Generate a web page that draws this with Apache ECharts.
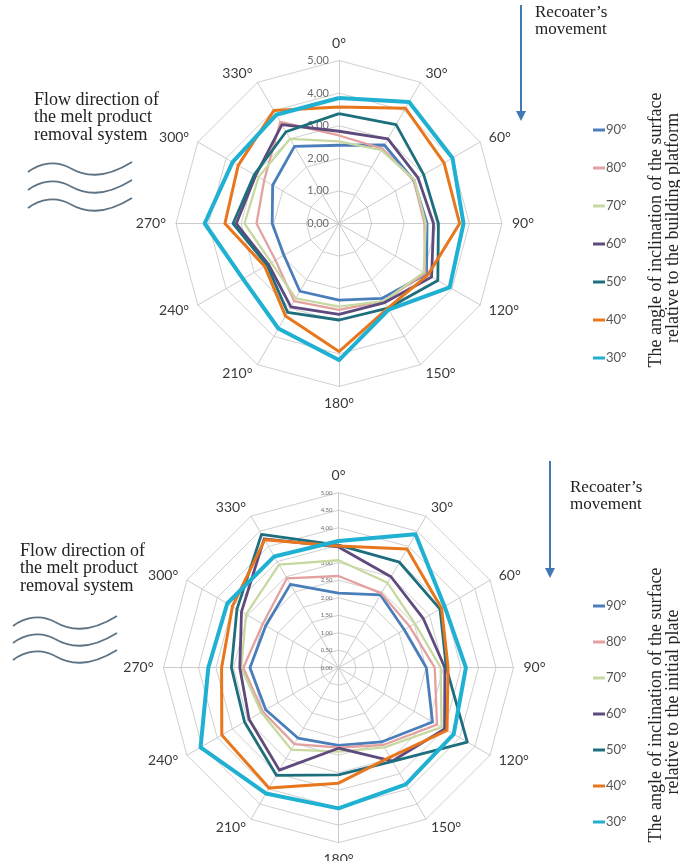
<!DOCTYPE html>
<html>
<head>
<meta charset="utf-8">
<script src="https://cdn.jsdelivr.net/npm/echarts@6/dist/echarts.min.js"></script>
<style>html,body{margin:0;padding:0;background:#fff;}#c{width:680px;height:861px;}</style>
</head>
<body>
<div id="c"></div>
<script>
// Directions (clockwise from top)
const directions = ['0°','30°','60°','90°','120°','150°','180°','210°','240°','270°','300°','330°'];
// Legend / series names (angle of inclination)
const seriesNames = ['90°','80°','70°','60°','50°','40°','30°'];
const seriesColors = ['#4a7ebb','#e3a2a0','#c7d9a0','#5e4a7c','#1e6f7e','#e8761c','#1fb0d2'];
const seriesWidths = [2.8, 2.3, 2.3, 2.8, 2.8, 3, 4];

// Top chart: relative to the building platform (values at 0°,30°,...,330°)
const top90 = [2.40, 2.78, 2.65, 2.70, 3.10, 2.65, 2.35, 2.40, 1.95, 2.05, 2.35, 2.73];
const top80 = [2.70, 2.65, 2.65, 2.62, 3.05, 2.75, 2.65, 2.75, 2.25, 2.53, 2.65, 3.60];
const top70 = [2.52, 2.60, 2.68, 2.66, 3.00, 2.75, 2.55, 2.65, 2.40, 2.90, 2.85, 3.00];
const top60 = [2.83, 3.00, 2.80, 2.90, 3.28, 2.80, 2.79, 2.95, 2.50, 3.15, 2.95, 3.50];
const top50 = [3.37, 3.50, 3.00, 3.05, 3.50, 3.00, 2.96, 3.15, 2.55, 3.25, 3.00, 3.25];
const top40 = [3.57, 4.08, 3.72, 3.70, 3.15, 3.00, 3.93, 3.28, 2.63, 3.50, 3.57, 4.00];
const top30 = [3.85, 4.30, 4.02, 3.82, 3.92, 3.05, 4.19, 3.72, 3.40, 4.12, 3.77, 3.85];

// Bottom chart: relative to the initial plate
const bot90 = [2.13, 2.40, 2.17, 2.51, 3.10, 2.45, 2.22, 2.32, 2.40, 2.53, 2.40, 2.75];
const bot80 = [2.62, 2.45, 2.35, 2.75, 3.25, 2.55, 2.28, 2.52, 2.50, 2.72, 2.50, 2.95];
const bot70 = [3.07, 2.80, 2.52, 2.92, 3.40, 2.63, 2.40, 2.70, 2.55, 2.78, 3.05, 3.40];
const bot60 = [3.45, 3.00, 2.80, 3.04, 3.50, 3.08, 2.30, 3.38, 2.95, 2.82, 3.20, 4.25];
const bot50 = [3.50, 3.48, 3.35, 3.08, 4.25, 3.09, 3.06, 3.55, 3.10, 3.06, 3.35, 4.40];
const bot40 = [3.48, 3.92, 3.40, 3.13, 3.58, 2.95, 3.30, 3.97, 3.85, 3.34, 3.50, 4.22];
const bot30 = [3.62, 4.40, 3.50, 3.64, 3.80, 3.85, 4.02, 4.15, 4.55, 3.72, 3.67, 3.67];

const topData = [top90, top80, top70, top60, top50, top40, top30];
const botData = [bot90, bot80, bot70, bot60, bot50, bot40, bot30];

// ECharts radar lays indicators counter-clockwise; reorder so directions run clockwise
const order = directions.map((d, k) => (12 - k) % 12);
const reorder = arr => order.map(i => arr[i]);
const fmt = v => v.toFixed(2).replace('.', ',');

function indicators(maxV, labelSize, margin) {
  return order.map((i, k) => {
    const ind = { name: directions[i], min: 0, max: maxV };
    if (k === 0) {
      ind.axisLabel = { show: true, formatter: fmt, fontSize: labelSize, color: '#6a6a6a',
                        fontFamily: 'Lato, sans-serif', margin: margin };
    }
    return ind;
  });
}

function radarCfg(center, radius, split, labelSize, margin) {
  return {
    center: center, radius: radius, startAngle: 90, splitNumber: split, shape: 'polygon',
    indicator: indicators(5, labelSize, margin),
    axisName: { color: '#3a3a3a', fontSize: 14, fontFamily: 'Lato, sans-serif' },
    nameGap: 10,
    splitLine: { lineStyle: { color: '#d0d0d0', width: 1 } },
    splitArea: { show: false },
    axisLine: { lineStyle: { color: '#cbcbcb', width: 1 } },
    axisTick: { show: false },
    axisLabel: { show: false }
  };
}

function seriesFor(dataSets, radarIndex) {
  return {
    type: 'radar', radarIndex: radarIndex, symbol: 'none', silent: true,
    data: dataSets.map((arr, s) => ({
      name: seriesNames[s], value: reorder(arr),
      lineStyle: { color: seriesColors[s], width: seriesWidths[s] },
      itemStyle: { color: seriesColors[s] }
    }))
  };
}

function legendCfg(top, gap) {
  return {
    orient: 'vertical', left: 588, top: top, itemGap: gap, icon: 'rect', itemWidth: 12, itemHeight: 3,
    data: seriesNames,
    textStyle: { color: '#555', fontSize: 13, fontFamily: 'Lato, sans-serif', lineHeight: 14, padding: [0, 0, 0, -4] },
    selectedMode: false
  };
}

const serif = '"Liberation Serif", "DejaVu Serif", serif';
const waveColor = '#5d7282';
function wave(x, y) {
  const st = { fill: null, stroke: waveColor, lineWidth: 1.8 };
  return [
    { type: 'bezierCurve', x: x, y: y, silent: true, style: st,
      shape: { x1: 0, y1: 0, cpx1: 12, cpy1: -9, cpx2: 28, cpy2: -12, x2: 42, y2: -4 } },
    { type: 'bezierCurve', x: x, y: y, silent: true, style: st,
      shape: { x1: 42, y1: -4, cpx1: 56, cpy1: 4, cpx2: 75, cpy2: 8, x2: 104, y2: -10 } }
  ];
}
function text(t, x, y, opts) {
  return Object.assign({ type: 'text', x: x, y: y, silent: true,
    style: Object.assign({ text: t, fill: '#222', font: '17px ' + serif }, (opts && opts.style) || {}) },
    (opts && opts.el) || {});
}
const flowFont = { style: { font: '18px ' + serif } };
function arrow(x, y1, y2) {
  return [
    { type: 'line', shape: { x1: x, y1: y1, x2: x, y2: y2 - 8 }, style: { stroke: '#4079b6', lineWidth: 2 }, silent: true },
    { type: 'polygon', shape: { points: [[x - 5, y2 - 10], [x + 5, y2 - 10], [x, y2]] }, style: { fill: '#4079b6' }, silent: true }
  ];
}
const vt = { style: { textAlign: 'center', textVerticalAlign: 'middle', font: '18px ' + serif }, el: { rotation: Math.PI / 2 } };

const graphics = [].concat(
  arrow(521, 5, 121),
  [text('Recoater\u2019s', 535, 4), text('movement', 535, 21)],
  [text('Flow direction of', 34, 91, flowFont), text('the melt product', 34, 108.5, flowFont), text('removal system', 34, 126, flowFont)],
  wave(28, 172), wave(28, 190), wave(28, 208),
  [text('The angle of inclination of the surface', 656, 230, vt),
   text('relative to the building platform', 673, 228, vt)],
  arrow(550, 461, 578),
  [text('Recoater\u2019s', 570, 479), text('movement', 570, 496)],
  [text('Flow direction of', 20, 542, flowFont), text('the melt product', 20, 559.5, flowFont), text('removal system', 20, 577, flowFont)],
  wave(13, 626), wave(13, 643), wave(13, 660),
  [text('The angle of inclination of the surface', 656, 705, vt),
   text('relative to the initial plate', 673, 702, vt)]
);

const chart = echarts.init(document.getElementById('c'), null, { renderer: 'canvas', width: 680, height: 861 });
chart.setOption({
  animation: false,
  backgroundColor: '#fff',
  radar: [
    radarCfg([339, 223.5], 163, 5, 11, 10),
    radarCfg([338.5, 667.7], 175, 10, 6, 6)
  ],
  legend: [legendCfg(118, 24), legendCfg(594, 22)],
  series: [seriesFor(topData, 0), seriesFor(botData, 1)],
  graphic: graphics
});
</script>
</body>
</html>
